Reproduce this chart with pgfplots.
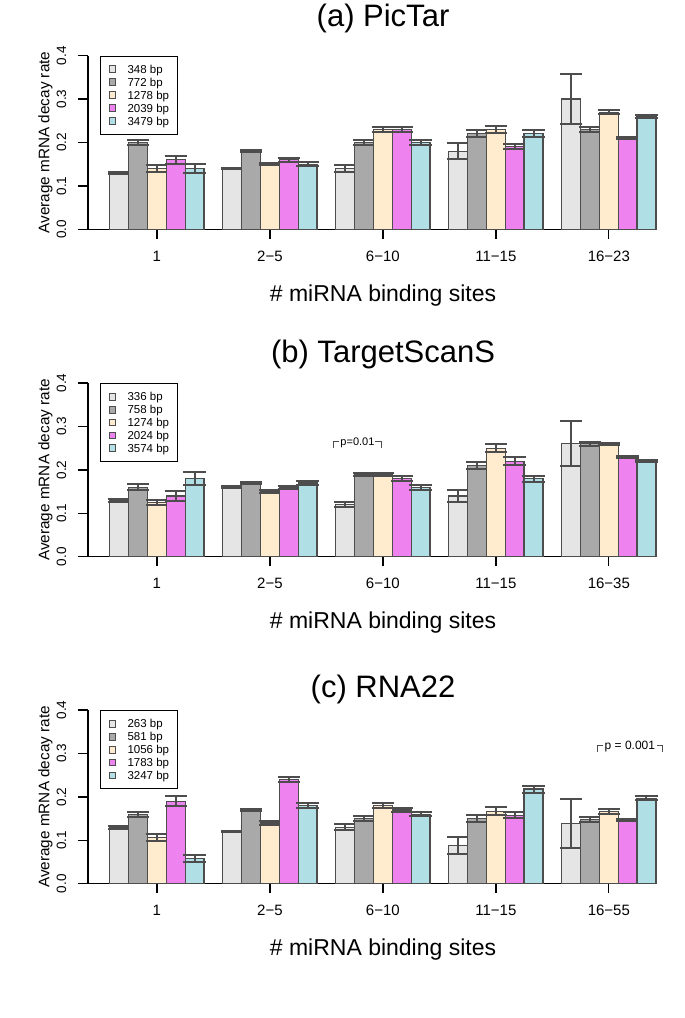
\documentclass[border=0pt]{standalone}
\usepackage{fontspec}
\setmainfont{Liberation Sans}
\usepackage{pgfplots}
\usepackage{pgfplotstable}
\pgfplotsset{compat=1.18}
\definecolor{cLG}{HTML}{E5E5E5}
\definecolor{cDG}{HTML}{A9A9A9}
\definecolor{cPW}{HTML}{FFEBCD}
\definecolor{cVI}{HTML}{EE82EE}
\definecolor{cPB}{HTML}{B0E0E6}
\definecolor{edge}{HTML}{4D4D4D}

% (a) PicTar
\pgfplotstableread{
pos  v1    e1    v2    e2    v3    e3    v4    e4    v5    e5
3.5  0.130 0.003 0.200 0.006 0.140 0.008 0.160 0.010 0.140 0.010
9.5  0.140 0.002 0.180 0.003 0.150 0.003 0.160 0.005 0.150 0.004
15.5 0.140 0.007 0.200 0.005 0.230 0.005 0.230 0.005 0.200 0.005
21.5 0.180 0.018 0.220 0.008 0.230 0.009 0.190 0.006 0.220 0.008
27.5 0.300 0.057 0.230 0.006 0.270 0.005 0.210 0.003 0.260 0.004
}\tabA
% (b) TargetScanS
\pgfplotstableread{
pos  v1    e1    v2    e2    v3    e3    v4    e4    v5    e5
3.5  0.130 0.003 0.160 0.007 0.125 0.006 0.140 0.012 0.180 0.015
9.5  0.160 0.002 0.170 0.003 0.150 0.004 0.160 0.004 0.170 0.005
15.5 0.120 0.005 0.190 0.004 0.190 0.004 0.180 0.005 0.160 0.006
21.5 0.140 0.013 0.210 0.009 0.250 0.009 0.220 0.009 0.180 0.007
27.5 0.260 0.052 0.260 0.004 0.260 0.003 0.230 0.003 0.220 0.002
}\tabB
% (c) RNA22
\pgfplotstableread{
pos  v1    e1    v2    e2    v3    e3    v4    e4    v5    e5
3.5  0.130 0.003 0.160 0.006 0.107 0.008 0.190 0.011 0.058 0.009
9.5  0.120 0.002 0.170 0.003 0.140 0.004 0.240 0.005 0.180 0.005
15.5 0.130 0.007 0.150 0.006 0.180 0.006 0.170 0.005 0.160 0.005
21.5 0.088 0.019 0.150 0.008 0.167 0.009 0.158 0.007 0.218 0.008
27.5 0.139 0.057 0.148 0.005 0.167 0.006 0.147 0.003 0.197 0.005
}\tabC

\pgfplotsset{
  bstyle/.style={ybar, bar width=1, bar shift=0pt, draw=edge, line width=1.2pt},
  eb/.style={error bars/.cd, y dir=both, y explicit,
    error bar style={line width=2pt, color=edge},
    error mark options={rotate=90, mark size=11.2pt, line width=2pt, color=edge}},
  panel/.style={
    scale only axis, width=567.9pt, height=173.6pt,
    anchor=south west,
    xmin=-0.16, xmax=30, ymin=0, ymax=0.4,
    clip=false,
    axis x line=bottom, axis y line=left,
    axis line style={-, line width=1.3pt, black},
    every tick/.style={black, line width=1.3pt},
    tick align=outside, major tick length=9.5pt,
    xtick={3.5,9.5,15.5,21.5,27.5},
    ytick={0,0.1,0.2,0.3,0.4},
    yticklabels={0.0,0.1,0.2,0.3,0.4},
    xticklabel style={font=\fontsize{15}{18}\selectfont, anchor=north, inner sep=0pt},
    yticklabel style={font=\fontsize{13.5}{16}\selectfont, rotate=90, anchor=south, inner sep=0pt},
    xticklabel shift=12pt, yticklabel shift=12pt,
    xlabel={\# miRNA binding sites},
    ylabel={Average mRNA decay rate},
    every axis x label/.style={at={(axis description cs:0.5195,-0.416)}, anchor=base, font=\fontsize{23}{27}\selectfont},
    every axis y label/.style={at={(axis description cs:-0.0681,0.5)}, rotate=90, anchor=base, font=\fontsize{15.3}{18}\selectfont},
    every axis title/.style={anchor=base, font=\fontsize{31}{36}\selectfont},
    legend cell align=left,
    legend style={at={(axis description cs:0.0211,1)}, anchor=north west,
      draw=black, line width=1.1pt, fill=white,
      font=\fontsize{11.5}{13}\selectfont,
      inner xsep=8pt, inner ysep=9pt, row sep=4.6pt,
      cells={anchor=west},
      nodes={inner sep=0pt, text height=8.3pt, text depth=0pt}},
    legend image code/.code={
      \draw[#1, draw=edge, line width=1pt] (0pt,-3.4pt) rectangle (6.8pt,3.4pt);
      \path[draw=none, fill=none] (0pt,0pt) -- (18.5pt,0pt);},
  },
}

\begin{document}
\begin{tikzpicture}
\useasboundingbox (0,0) rectangle (685pt,1018pt);

% ---------- (a) ----------
\begin{axis}[panel, at={(88pt,788.7pt)},
  title={(a) PicTar}, title style={at={(axis description cs:0.5195,1.171)}},
  xticklabels={1,2−5,6−10,11−15,16−23}]
\addplot[bstyle, fill=cLG, eb] table[x expr=\thisrow{pos}-2, y=v1, y error=e1] {\tabA};
\addlegendentry{348 bp}
\addplot[bstyle, fill=cDG, eb] table[x expr=\thisrow{pos}-1, y=v2, y error=e2] {\tabA};
\addlegendentry{772 bp}
\addplot[bstyle, fill=cPW, eb] table[x expr=\thisrow{pos}, y=v3, y error=e3] {\tabA};
\addlegendentry{1278 bp}
\addplot[bstyle, fill=cVI, eb] table[x expr=\thisrow{pos}+1, y=v4, y error=e4] {\tabA};
\addlegendentry{2039 bp}
\addplot[bstyle, fill=cPB, eb] table[x expr=\thisrow{pos}+2, y=v5, y error=e5] {\tabA};
\addlegendentry{3479 bp}
\end{axis}

% ---------- (b) ----------
\begin{axis}[panel, at={(88pt,461.3pt)},
  title={(b) TargetScanS}, title style={at={(axis description cs:0.5195,1.121)}},
  xticklabels={1,2−5,6−10,11−15,16−35}]
\addplot[bstyle, fill=cLG, eb] table[x expr=\thisrow{pos}-2, y=v1, y error=e1] {\tabB};
\addlegendentry{336 bp}
\addplot[bstyle, fill=cDG, eb] table[x expr=\thisrow{pos}-1, y=v2, y error=e2] {\tabB};
\addlegendentry{758 bp}
\addplot[bstyle, fill=cPW, eb] table[x expr=\thisrow{pos}, y=v3, y error=e3] {\tabB};
\addlegendentry{1274 bp}
\addplot[bstyle, fill=cVI, eb] table[x expr=\thisrow{pos}+1, y=v4, y error=e4] {\tabB};
\addlegendentry{2024 bp}
\addplot[bstyle, fill=cPB, eb] table[x expr=\thisrow{pos}+2, y=v5, y error=e5] {\tabB};
\addlegendentry{3574 bp}
\draw[line width=0.9pt, edge] (axis cs:12.85,0.251) |- (axis cs:15.44,0.266) -- (axis cs:15.44,0.251);
\node[fill=white, inner xsep=1pt, inner ysep=0.5pt, font=\fontsize{11}{12}\selectfont] at (axis cs:14.15,0.263) {p=0.01};
\end{axis}

% ---------- (c) ----------
\begin{axis}[panel, at={(88pt,134.3pt)},
  title={(c) RNA22}, title style={at={(axis description cs:0.5195,1.075)}},
  xticklabels={1,2−5,6−10,11−15,16−55}]
\addplot[bstyle, fill=cLG, eb] table[x expr=\thisrow{pos}-2, y=v1, y error=e1] {\tabC};
\addlegendentry{263 bp}
\addplot[bstyle, fill=cDG, eb] table[x expr=\thisrow{pos}-1, y=v2, y error=e2] {\tabC};
\addlegendentry{581 bp}
\addplot[bstyle, fill=cPW, eb] table[x expr=\thisrow{pos}, y=v3, y error=e3] {\tabC};
\addlegendentry{1056 bp}
\addplot[bstyle, fill=cVI, eb] table[x expr=\thisrow{pos}+1, y=v4, y error=e4] {\tabC};
\addlegendentry{1783 bp}
\addplot[bstyle, fill=cPB, eb] table[x expr=\thisrow{pos}+2, y=v5, y error=e5] {\tabC};
\addlegendentry{3247 bp}
\draw[line width=0.9pt, edge] (axis cs:26.89,0.303) |- (axis cs:30.36,0.318) -- (axis cs:30.36,0.303);
\node[fill=white, inner xsep=1.5pt, inner ysep=0.5pt, font=\fontsize{12}{13}\selectfont] at (axis cs:28.62,0.315) {p = 0.001};
\end{axis}
\end{tikzpicture}
\end{document}
